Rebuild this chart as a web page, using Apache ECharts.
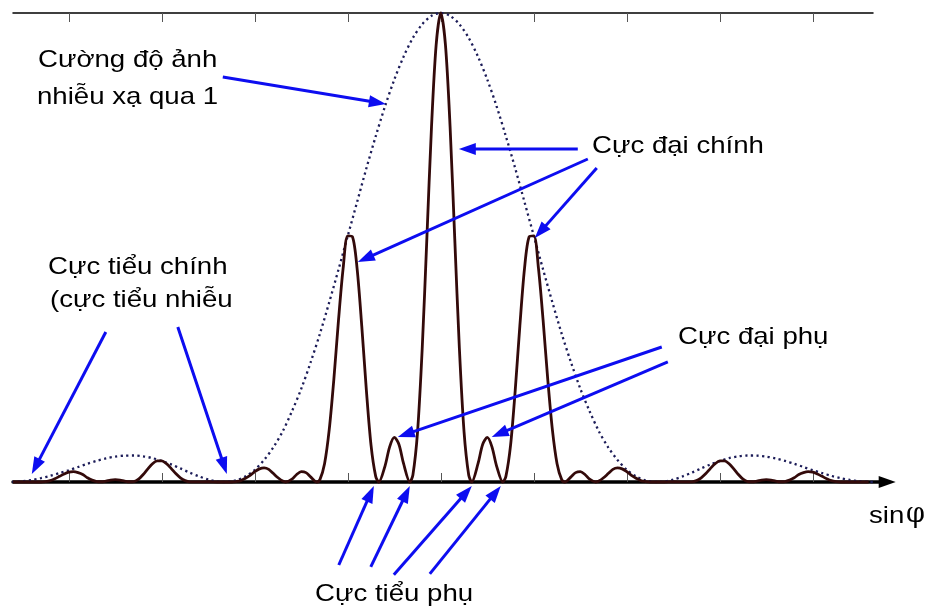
<!DOCTYPE html>
<html><head><meta charset="utf-8">
<script src="https://cdn.jsdelivr.net/npm/echarts@6/dist/echarts.min.js"></script>
<style>html,body{margin:0;padding:0;background:#fff}#c{width:929px;height:611px}</style>
</head><body><div id="c"></div>
<script>
// Multi-slit (N = 3) diffraction pattern, x in units of sinφ (principal-maximum spacing = 1)
const sinPhi = [
  -4.6, -4.5, -4.4, -4.3, -4.25, -4.2, -4.15, -4.1, -4.05, -4.0,
  -3.95, -3.9, -3.85, -3.8, -3.75, -3.7, -3.65, -3.6, -3.55, -3.5,
  -3.45, -3.4, -3.35, -3.3, -3.25, -3.2, -3.15, -3.1, -3.05, -3.0,
  -2.95, -2.9, -2.85, -2.8, -2.75, -2.7, -2.6, -2.5, -2.4, -2.3,
  -2.25, -2.2, -2.15, -2.1, -2.05, -2.0, -1.95, -1.9, -1.85, -1.8,
  -1.75, -1.7, -1.667, -1.6, -1.55, -1.5, -1.45, -1.4, -1.333, -1.3,
  -1.25, -1.2, -1.15, -1.1, -1.05, -1.0, -0.95, -0.9, -0.85, -0.8,
  -0.75, -0.7, -0.667, -0.6, -0.55, -0.5, -0.45, -0.4, -0.333, -0.3,
  -0.25, -0.2, -0.15, -0.1, -0.05, 0,
  0.05, 0.1, 0.15, 0.2, 0.25, 0.3, 0.333, 0.4, 0.45, 0.5,
  0.55, 0.6, 0.667, 0.7, 0.75, 0.8, 0.85, 0.9, 0.95, 1.0,
  1.05, 1.1, 1.15, 1.2, 1.25, 1.3, 1.333, 1.4, 1.45, 1.5,
  1.55, 1.6, 1.667, 1.7, 1.75, 1.8, 1.85, 1.9, 1.95, 2.0,
  2.05, 2.1, 2.15, 2.2, 2.25, 2.3, 2.4, 2.5, 2.6, 2.7,
  2.75, 2.8, 2.85, 2.9, 2.95, 3.0, 3.05, 3.1, 3.15, 3.2,
  3.25, 3.3, 3.35, 3.4, 3.45, 3.5, 3.55, 3.6, 3.65, 3.7,
  3.75, 3.8, 3.85, 3.9, 3.95, 4.0, 4.05, 4.1, 4.15, 4.2,
  4.25, 4.3, 4.4, 4.5, 4.6
];
const intensity = [
  0, 0, 0, 0, 0.001, 0.003, 0.007, 0.012, 0.017, 0.021,
  0.022, 0.020, 0.016, 0.009, 0.004, 0.001, 0.0005, 0.002, 0.004, 0.005,
  0.004, 0.002, 0.0005, 0.001, 0.006, 0.016, 0.028, 0.039, 0.045, 0.045,
  0.039, 0.029, 0.018, 0.009, 0.003, 0.0004, 0.0004, 0.0005, 0, 0,
  0, 0.001, 0.003, 0.008, 0.014, 0.022, 0.028, 0.030, 0.027, 0.018,
  0.009, 0.002, 0, 0.006, 0.016, 0.022, 0.020, 0.011, 0, 0.005,
  0.039, 0.111, 0.219, 0.345, 0.456, 0.525, 0.523, 0.455, 0.333, 0.195,
  0.078, 0.012, 0, 0.034, 0.075, 0.095, 0.080, 0.039, 0, 0.015,
  0.107, 0.284, 0.519, 0.757, 0.932, 1,
  0.932, 0.757, 0.519, 0.284, 0.107, 0.015, 0, 0.039, 0.080, 0.095,
  0.075, 0.034, 0, 0.012, 0.078, 0.195, 0.333, 0.455, 0.523, 0.525,
  0.456, 0.345, 0.219, 0.111, 0.039, 0.005, 0, 0.011, 0.020, 0.022,
  0.016, 0.006, 0, 0.002, 0.009, 0.018, 0.027, 0.030, 0.028, 0.022,
  0.014, 0.008, 0.003, 0.001, 0, 0, 0, 0.0005, 0.0004, 0.0004,
  0.003, 0.009, 0.018, 0.029, 0.039, 0.045, 0.045, 0.039, 0.028, 0.016,
  0.006, 0.001, 0.0005, 0.002, 0.004, 0.005, 0.004, 0.002, 0.0005, 0.001,
  0.004, 0.009, 0.016, 0.020, 0.022, 0.021, 0.017, 0.012, 0.007, 0.003,
  0.001, 0, 0, 0, 0
];
// single-slit envelope ("Cường độ ảnh nhiễu xạ qua 1 khe")
const envSinPhi = [
  -4.67, -4.6, -4.5, -4.4, -4.3, -4.2, -4.1, -4.0, -3.9, -3.8,
  -3.7, -3.6, -3.5, -3.4, -3.3, -3.2, -3.1, -3.0, -2.9, -2.8,
  -2.7, -2.6, -2.5, -2.4, -2.33, -2.2, -2.1, -2.0, -1.9, -1.8,
  -1.7, -1.6, -1.5, -1.4, -1.3, -1.2, -1.1, -1.0, -0.9, -0.8,
  -0.7, -0.6, -0.5, -0.4, -0.3, -0.2, -0.1, 0,
  0.1, 0.2, 0.3, 0.4, 0.5, 0.6, 0.7, 0.8, 0.9, 1.0,
  1.1, 1.2, 1.3, 1.4, 1.5, 1.6, 1.7, 1.8, 1.9, 2.0,
  2.1, 2.2, 2.33, 2.4, 2.5, 2.6, 2.7, 2.8, 2.9, 3.0,
  3.1, 3.2, 3.3, 3.4, 3.5, 3.6, 3.7, 3.8, 3.9, 4.0,
  4.1, 4.2, 4.3, 4.4, 4.5, 4.6, 4.67
];
const envelope = [
  0, 0.0002, 0.0017, 0.0043, 0.0082, 0.0131, 0.019, 0.0251, 0.032, 0.0388,
  0.0451, 0.0503, 0.0541, 0.0562, 0.0565, 0.0547, 0.0509, 0.0446, 0.0376, 0.029,
  0.020, 0.012, 0.0052, 0.0009, 0, 0.0037, 0.012, 0.026, 0.047, 0.074,
  0.108, 0.151, 0.199, 0.255, 0.316, 0.383, 0.453, 0.525, 0.597, 0.669,
  0.737, 0.801, 0.858, 0.907, 0.947, 0.976, 0.994, 1,
  0.994, 0.976, 0.947, 0.907, 0.858, 0.801, 0.737, 0.669, 0.597, 0.525,
  0.453, 0.383, 0.316, 0.255, 0.199, 0.151, 0.108, 0.074, 0.047, 0.026,
  0.012, 0.0037, 0, 0.0009, 0.0052, 0.012, 0.020, 0.029, 0.0376, 0.0446,
  0.0509, 0.0547, 0.0565, 0.0562, 0.0541, 0.0503, 0.0451, 0.0388, 0.032, 0.0251,
  0.019, 0.0131, 0.0082, 0.0043, 0.0017, 0.0002, 0
];
const tickValues = [-4, -3, -2, -1, 0, 1, 2, 3, 4];

// annotation texts
const labelTexts = ['Cường độ ảnh', 'nhiễu xạ qua 1', 'Cực đại chính', 'Cực tiểu chính',
  '(cực tiểu nhiễu', 'Cực đại phụ', 'Cực tiểu phụ'];
const axisName = ['sin', 'φ'];

// annotation arrows: [fromSinPhi, fromI, toSinPhi, toI] in data coordinates
const arrowsFromTo = [
  [-2.344, 0.8635, -0.591, 0.806],
  [1.473, 0.710, 0.194, 0.710],
  [1.581, 0.6887, -0.892, 0.469],
  [1.677, 0.6695, 1.011, 0.520],
  [2.376, 0.2878, -0.462, 0.0959],
  [2.441, 0.2559, 0.548, 0.0959],
  [-3.602, 0.3198, -4.398, 0.0171],
  [-2.828, 0.3305, -2.301, 0.0171],
  [-1.097, -0.177, -0.720, -0.0085],
  [-0.753, -0.181, -0.333, -0.0085],
  [-0.505, -0.198, 0.333, -0.0085],
  [-0.118, -0.196, 0.645, -0.0085]
];

const chart = echarts.init(document.getElementById('c'), null, {renderer: 'canvas'});
const solidData = sinPhi.map((x, i) => [x, intensity[i]]);
const envData = envSinPhi.map((x, i) => [x, envelope[i]]);

chart.setOption({
  animation: false,
  backgroundColor: '#ffffff',
  grid: [
    {left: 13, right: 41.8, top: 13, bottom: 129},
    {left: 13, right: 56, top: 13, height: 20}
  ],
  xAxis: [
    {type: 'value', gridIndex: 0, min: -4.6, max: 4.8, position: 'bottom',
      axisLine: {show: true, onZero: false, lineStyle: {color: '#000', width: 3.5},
        symbol: ['none', 'triangle'], symbolSize: [12, 17]},
      axisTick: {show: true, inside: true, length: 9, customValues: tickValues,
        lineStyle: {color: '#555', width: 1}},
      axisLabel: {show: false}, splitLine: {show: false}},
    {type: 'value', gridIndex: 1, min: -4.6, max: 4.647, position: 'top',
      axisLine: {show: true, onZero: false, lineStyle: {color: '#000', width: 1.5}},
      axisTick: {show: true, inside: true, length: 9, customValues: tickValues,
        lineStyle: {color: '#555', width: 1}},
      axisLabel: {show: false}, splitLine: {show: false}}
  ],
  yAxis: [
    {type: 'value', gridIndex: 0, min: 0, max: 1, show: false},
    {type: 'value', gridIndex: 1, min: 0, max: 1, show: false}
  ],
  series: [
    {type: 'line', xAxisIndex: 0, yAxisIndex: 0, data: envData, showSymbol: false,
      smooth: 0.3, clip: false, z: 2,
      lineStyle: {color: '#1c1c58', width: 2.3, type: [2.2, 3.4]}},
    {type: 'line', xAxisIndex: 0, yAxisIndex: 0, data: solidData, showSymbol: false,
      smooth: 0.3, clip: false, z: 3,
      lineStyle: {color: '#330a0a', width: 2.8}}
  ]
});

// annotations
const labelPos = [[38, 60], [37, 97], [592, 146], [48, 267], [50, 300], [678, 337], [315, 594]];
const textEls = labelTexts.map((t, i) => ({
  type: 'text', x: labelPos[i][0], y: labelPos[i][1], scaleX: 1.15, z: 10,
  style: {text: t, fontSize: 24, fontFamily: '"Liberation Sans", Arial, sans-serif',
    fill: '#000', align: 'left', verticalAlign: 'middle'}
}));
textEls.push({type: 'text', x: 869, y: 516, scaleX: 1.15, z: 10,
  style: {text: axisName[0], fontSize: 24, fontFamily: '"Liberation Sans", Arial, sans-serif',
    fill: '#000', align: 'left', verticalAlign: 'middle'}});
textEls.push({type: 'text', x: 906, y: 515, z: 10,
  style: {text: axisName[1], fontSize: 27, fontFamily: '"DejaVu Serif", "Liberation Serif", serif',
    fill: '#000', align: 'left', verticalAlign: 'middle'}});

const BLUE = '#0d0df0';
const arrowEls = [];
arrowsFromTo.forEach(a => {
  const p0 = chart.convertToPixel({gridIndex: 0}, [a[0], a[1]]);
  const p1 = chart.convertToPixel({gridIndex: 0}, [a[2], a[3]]);
  const dx = p1[0] - p0[0], dy = p1[1] - p0[1];
  const len = Math.hypot(dx, dy);
  const ux = dx / len, uy = dy / len;
  const L = 17, W = 6;
  const bx = p1[0] - ux * L, by = p1[1] - uy * L;
  arrowEls.push({type: 'line', z: 9,
    shape: {x1: p0[0], y1: p0[1], x2: bx + ux * 2, y2: by + uy * 2},
    style: {stroke: BLUE, lineWidth: 3}});
  arrowEls.push({type: 'polygon', z: 9,
    shape: {points: [[p1[0], p1[1]], [bx - uy * W, by + ux * W], [bx + uy * W, by - ux * W]]},
    style: {fill: BLUE}});
});

chart.setOption({graphic: {elements: textEls.concat(arrowEls)}});
</script>
</body></html>
